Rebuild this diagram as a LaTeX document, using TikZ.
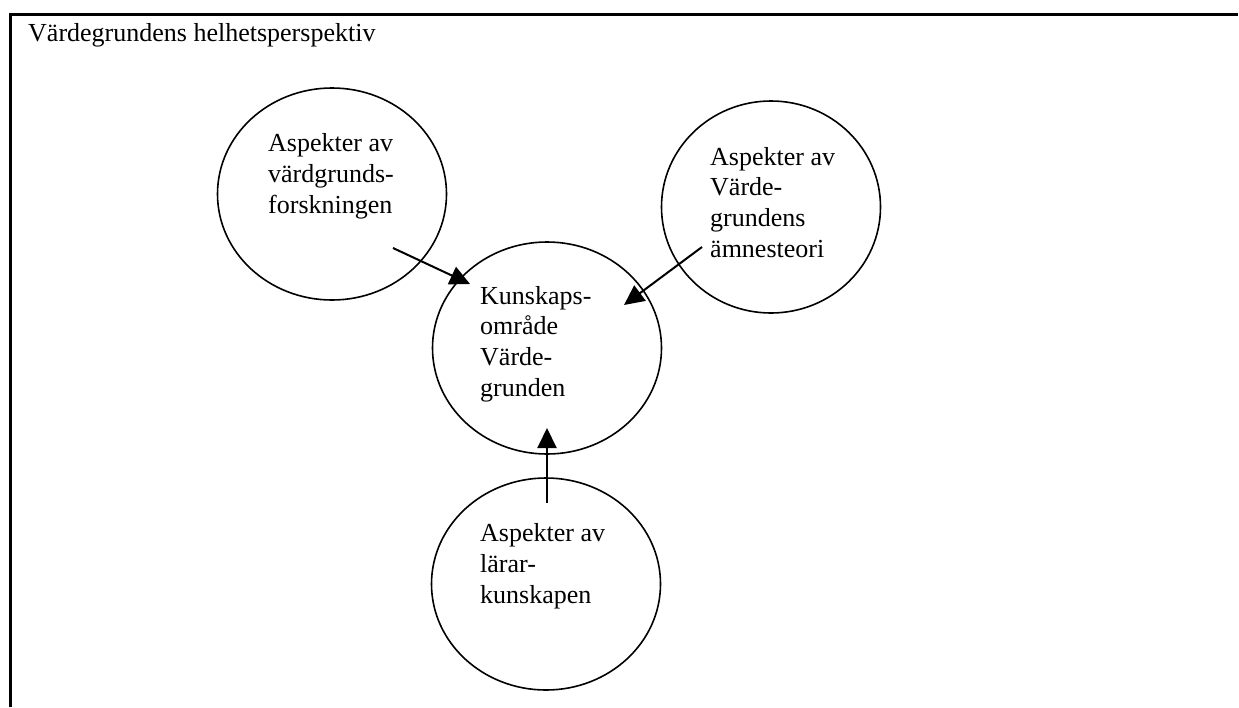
\documentclass[tikz,border=0pt]{standalone}
\usepackage{fontspec}
\setmainfont{Liberation Serif}
\usetikzlibrary{shapes.geometric,arrows.meta}
\tikzset{
  bubble/.style={draw, ellipse, line width=1.6pt, inner sep=0pt, minimum width=229pt, minimum height=212pt},
  txt/.style={align=left, anchor=base west, inner sep=0pt, font=\fontsize{26}{30.6}\selectfont},
  flow/.style={line width=2pt, -{Triangle[length=20pt,width=19pt]}},
  frame/.style={line width=3pt}
}
\begin{document}
\begin{tikzpicture}[x=1pt,y=-1pt]
\useasboundingbox (0,0) rectangle (1239,707);
\draw[frame] (10,707) -- (10,14) -- (1238,14);
\node[txt] (title) at (28,41) {Värdegrundens helhetsperspektiv};
% circles
\node[bubble] (forsk) at (332,194) {};
\node[bubble] (center) at (547,348) {};
\node[bubble, minimum width=219pt] (amne) at (771,207) {};
\node[bubble] (larar) at (546,584) {};
% texts (base = baseline of last line)
\node[txt] (tforsk) at (268,213) {Aspekter av\\värdgrunds-\\forskningen};
\node[txt] (tcenter) at (480,396) {Kunskaps-\\område\\Värde-\\grunden};
\node[txt] (tamne) at (710,257) {Aspekter av\\Värde-\\grundens\\ämnesteori};
\node[txt] (tlarar) at (480,603) {Aspekter av\\lärar-\\kunskapen};
% arrow end points
\coordinate (s1) at (393,248);
\coordinate (e1) at (470,284);
\coordinate (s2) at (702,247);
\coordinate (e2) at (624,305);
\coordinate (s3) at (547,503);
\coordinate (e3) at (547,428);
\draw[flow] (s1) -- (e1);
\draw[flow] (s2) -- (e2);
\draw[flow] (s3) -- (e3);
\end{tikzpicture}
\end{document}
